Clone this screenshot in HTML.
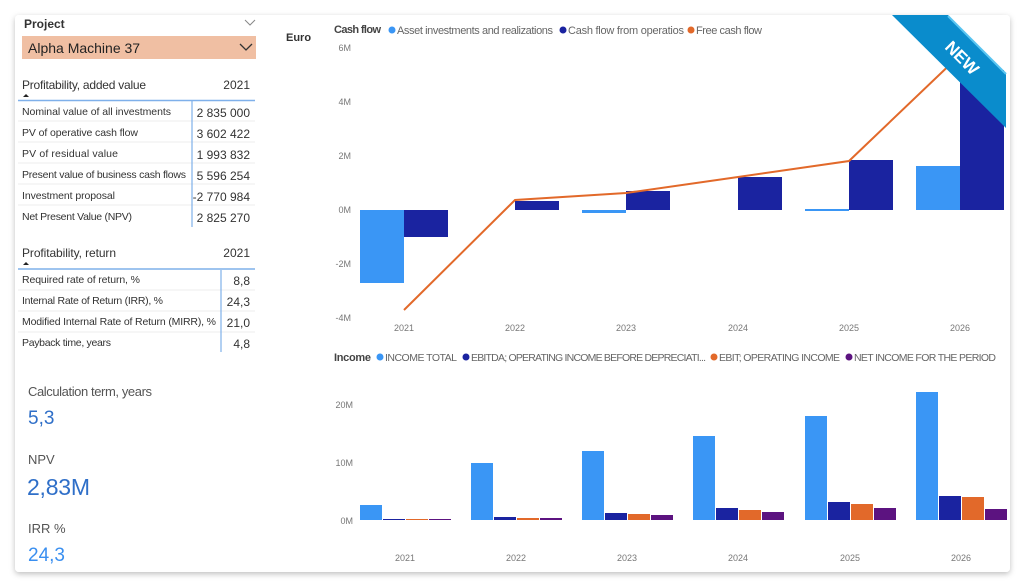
<!DOCTYPE html>
<html><head><meta charset="utf-8"><style>
html,body{margin:0;padding:0;background:#f3f3f3;}
svg{display:block;font-family:"Liberation Sans",sans-serif;}
</style></head><body>
<svg width="1024" height="588" viewBox="0 0 1024 588">
<defs><filter id="sh" x="-5%" y="-5%" width="110%" height="110%"><feDropShadow dx="0" dy="2" stdDeviation="3" flood-color="#000" flood-opacity="0.25"/></filter></defs>
<rect x="0" y="0" width="1024" height="588" fill="#ffffff"/>
<rect x="15" y="15" width="995" height="557" rx="4" fill="#fff" filter="url(#sh)"/>
<!-- left panel -->
<text x="24" y="28" font-size="12" font-weight="bold" fill="#333">Project</text>
<polyline points="245,20 250,25 255,20" fill="none" stroke="#888" stroke-width="1"/>
<rect x="22" y="36" width="234" height="23" fill="#f0bfa3"/>
<text x="28" y="53" font-size="14" fill="#222">Alpha Machine 37</text>
<polyline points="240,44 246,50 252,44" fill="none" stroke="#333" stroke-width="1.3"/>
<text x="22" y="89" font-size="12" fill="#333" textLength="124">Profitability, added value</text>
<text x="250" y="89" font-size="12" fill="#333" text-anchor="end">2021</text>
<path d="M23,97 l3,-3 l3,3z" fill="#222"/>
<line x1="18" y1="100.5" x2="255" y2="100.5" stroke="#7fb0ea" stroke-width="1.5"/>
<g font-size="10.5" fill="#333">
<text x="22" y="115" textLength="149">Nominal value of all investments</text><text x="250" y="117" text-anchor="end" font-size="12">2 835 000</text>
<text x="22" y="136" textLength="116">PV of operative cash flow</text><text x="250" y="138" text-anchor="end" font-size="12">3 602 422</text>
<text x="22" y="157" textLength="96">PV of residual value</text><text x="250" y="159" text-anchor="end" font-size="12">1 993 832</text>
<text x="22" y="178" textLength="164">Present value of business cash flows</text><text x="250" y="180" text-anchor="end" font-size="12">5 596 254</text>
<text x="22" y="199" textLength="93">Investment proposal</text><text x="250" y="201" text-anchor="end" font-size="12">-2 770 984</text>
<text x="22" y="220" textLength="110">Net Present Value (NPV)</text><text x="250" y="222" text-anchor="end" font-size="12">2 825 270</text>
</g>
<g stroke="#eee"><line x1="18" y1="121" x2="255" y2="121"/><line x1="18" y1="142" x2="255" y2="142"/><line x1="18" y1="163" x2="255" y2="163"/><line x1="18" y1="184" x2="255" y2="184"/><line x1="18" y1="205" x2="255" y2="205"/></g>
<line x1="192" y1="101" x2="192" y2="227" stroke="#7fb0ea" stroke-width="1.2"/>
<text x="22" y="257" font-size="12" fill="#333" textLength="94">Profitability, return</text>
<text x="250" y="257" font-size="12" fill="#333" text-anchor="end">2021</text>
<path d="M23,265 l3,-3 l3,3z" fill="#222"/>
<line x1="18" y1="269" x2="255" y2="269" stroke="#7fb0ea" stroke-width="1.5"/>
<g font-size="10.5" fill="#333">
<text x="22" y="283" textLength="118">Required rate of return, %</text><text x="250" y="285" text-anchor="end" font-size="12">8,8</text>
<text x="22" y="304" textLength="141">Internal Rate of Return (IRR), %</text><text x="250" y="306" text-anchor="end" font-size="12">24,3</text>
<text x="22" y="325" textLength="194">Modified Internal Rate of Return (MIRR), %</text><text x="250" y="327" text-anchor="end" font-size="12">21,0</text>
<text x="22" y="346" textLength="89">Payback time, years</text><text x="250" y="348" text-anchor="end" font-size="12">4,8</text>
</g>
<g stroke="#eee"><line x1="18" y1="290" x2="255" y2="290"/><line x1="18" y1="311" x2="255" y2="311"/><line x1="18" y1="332" x2="255" y2="332"/></g>
<line x1="221" y1="270" x2="221" y2="352" stroke="#7fb0ea" stroke-width="1.2"/>
<text x="28" y="396" font-size="13" fill="#555" textLength="124">Calculation term, years</text>
<text x="28" y="424" font-size="19" fill="#2f6fc8">5,3</text>
<text x="28" y="464" font-size="13" fill="#555">NPV</text>
<text x="27" y="495" font-size="23" fill="#2f6fc8" textLength="63">2,83M</text>
<text x="28" y="533" font-size="13" fill="#555">IRR %</text>
<text x="28" y="561" font-size="19" fill="#3a8ff0">24,3</text>
<!-- Cash flow chart -->
<text x="286" y="41" font-size="11" font-weight="bold" fill="#333">Euro</text>
<text x="334" y="33" font-size="11" font-weight="bold" fill="#444" textLength="47">Cash flow</text>
<circle cx="392" cy="30" r="3.5" fill="#3a96f5"/><text x="397" y="34" font-size="11" fill="#666" textLength="156">Asset investments and realizations</text>
<circle cx="563" cy="30" r="3.5" fill="#1a23a0"/><text x="568" y="34" font-size="11" fill="#666" textLength="116">Cash flow from operatios</text>
<circle cx="691" cy="30" r="3.5" fill="#e2692a"/><text x="696" y="34" font-size="11" fill="#666" textLength="66">Free cash flow</text>
<g font-size="9" fill="#777" text-anchor="end">
<text x="351" y="51">6M</text><text x="351" y="105">4M</text><text x="351" y="159">2M</text><text x="351" y="213">0M</text><text x="351" y="267">-2M</text><text x="351" y="321">-4M</text>
</g>
<g fill="#3a96f5">
<rect x="360" y="210" width="44" height="73"/>
<rect x="582" y="210" width="44" height="3"/>
<rect x="805" y="209" width="44" height="2"/>
<rect x="916" y="166" width="44" height="44"/>
</g>
<g fill="#1a23a0">
<rect x="404" y="210" width="44" height="27"/>
<rect x="515" y="201" width="44" height="9"/>
<rect x="626" y="191" width="44" height="19"/>
<rect x="738" y="177" width="44" height="33"/>
<rect x="849" y="160" width="44" height="50"/>
<rect x="960" y="70" width="44" height="140"/>
</g>
<polyline points="404,310 515,200 626,193 738,177 849,161 960,55" fill="none" stroke="#e2692a" stroke-width="2"/>
<g font-size="9" fill="#777" text-anchor="middle">
<text x="404" y="331">2021</text><text x="515" y="331">2022</text><text x="626" y="331">2023</text><text x="738" y="331">2024</text><text x="849" y="331">2025</text><text x="960" y="331">2026</text>
</g>
<!-- ribbon -->
<polygon points="892,15 948,15 1006,73 1006,128" fill="#0a8ccc"/>
<line x1="948" y1="16" x2="1006" y2="74" stroke="#58c4f0" stroke-width="2"/>
<text x="0" y="0" font-size="17" font-weight="bold" fill="#fff" text-anchor="middle" transform="translate(958,62) rotate(45)">NEW</text>
<!-- Income chart -->
<text x="334" y="361" font-size="11" font-weight="bold" fill="#444" textLength="37">Income</text>
<circle cx="380" cy="357" r="3.5" fill="#3a96f5"/><text x="385" y="361" font-size="10.5" fill="#666" textLength="72">INCOME TOTAL</text>
<circle cx="466" cy="357" r="3.5" fill="#1a23a0"/><text x="471" y="361" font-size="10.5" fill="#666" textLength="235">EBITDA; OPERATING INCOME BEFORE DEPRECIATI...</text>
<circle cx="714" cy="357" r="3.5" fill="#e2692a"/><text x="719" y="361" font-size="10.5" fill="#666" textLength="121">EBIT; OPERATING INCOME</text>
<circle cx="849" cy="357" r="3.5" fill="#5c1380"/><text x="854" y="361" font-size="10.5" fill="#666" textLength="142">NET INCOME FOR THE PERIOD</text>
<g font-size="9" fill="#777" text-anchor="end">
<text x="353" y="408">20M</text><text x="353" y="466">10M</text><text x="353" y="524">0M</text>
</g>
<g fill="#3a96f5">
<rect x="360" y="505" width="22" height="15"/><rect x="471" y="463" width="22" height="57"/><rect x="582" y="451" width="22" height="69"/><rect x="693" y="436" width="22" height="84"/><rect x="805" y="416" width="22" height="104"/><rect x="916" y="392" width="22" height="128"/>
</g>
<g fill="#1a23a0">
<rect x="383" y="519" width="22" height="1"/><rect x="494" y="517" width="22" height="3"/><rect x="605" y="513" width="22" height="7"/><rect x="716" y="508" width="22" height="12"/><rect x="828" y="502" width="22" height="18"/><rect x="939" y="496" width="22" height="24"/>
</g>
<g fill="#e2692a">
<rect x="406" y="519" width="22" height="1"/><rect x="517" y="518" width="22" height="2"/><rect x="628" y="514" width="22" height="6"/><rect x="739" y="510" width="22" height="10"/><rect x="851" y="504" width="22" height="16"/><rect x="962" y="497" width="22" height="23"/>
</g>
<g fill="#5c1380">
<rect x="429" y="519" width="22" height="1"/><rect x="540" y="518" width="22" height="2"/><rect x="651" y="515" width="22" height="5"/><rect x="762" y="512" width="22" height="8"/><rect x="874" y="508" width="22" height="12"/><rect x="985" y="509" width="22" height="11"/>
</g>
<g font-size="9" fill="#777" text-anchor="middle">
<text x="405" y="561">2021</text><text x="516" y="561">2022</text><text x="627" y="561">2023</text><text x="738" y="561">2024</text><text x="850" y="561">2025</text><text x="961" y="561">2026</text>
</g>
</svg>
</body></html>
